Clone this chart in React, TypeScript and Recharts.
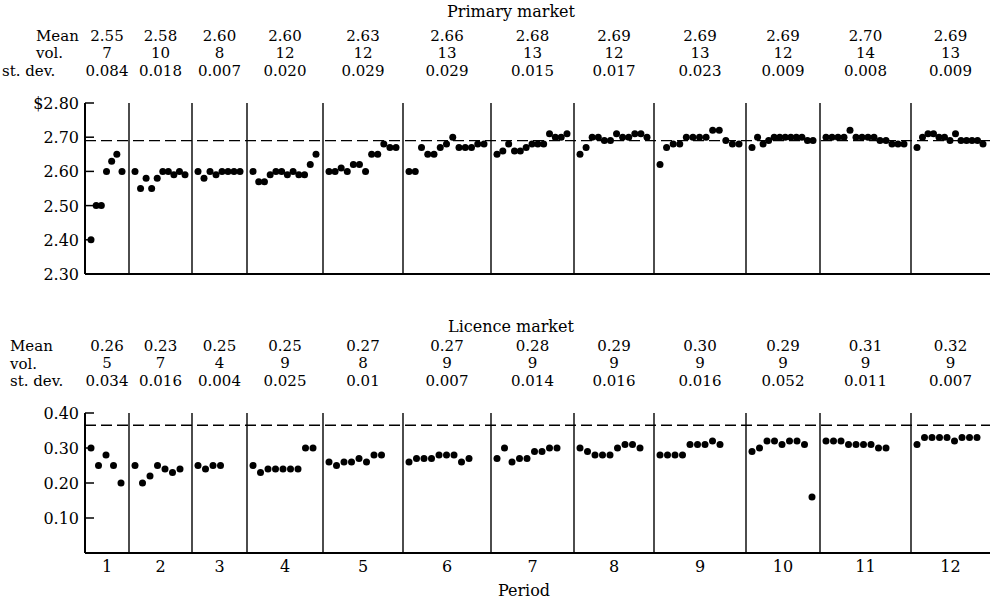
import React from "react";
import { ScatterChart, Scatter, XAxis, YAxis, ReferenceLine } from "recharts";

// Periods and their length on the time axis
const periods = [1, 2, 3, 4, 5, 6, 7, 8, 9, 10, 11, 12];
const periodLength = [44, 63, 55, 76, 80, 88, 83, 80, 92, 74, 91, 79];

// Primary market: trade prices, one list per period
const primaryPrices = [
  [2.4, 2.5, 2.5, 2.6, 2.63, 2.65, 2.6],
  [2.6, 2.55, 2.58, 2.55, 2.58, 2.6, 2.6, 2.59, 2.6, 2.59],
  [2.6, 2.58, 2.6, 2.59, 2.6, 2.6, 2.6, 2.6],
  [2.6, 2.57, 2.57, 2.59, 2.6, 2.6, 2.59, 2.6, 2.59, 2.59, 2.62, 2.65],
  [2.6, 2.6, 2.61, 2.6, 2.62, 2.62, 2.6, 2.65, 2.65, 2.68, 2.67, 2.67],
  [2.6, 2.6, 2.67, 2.65, 2.65, 2.67, 2.68, 2.7, 2.67, 2.67, 2.67, 2.68, 2.68],
  [2.65, 2.66, 2.68, 2.66, 2.66, 2.67, 2.68, 2.68, 2.68, 2.71, 2.7, 2.7, 2.71],
  [2.65, 2.67, 2.7, 2.7, 2.69, 2.69, 2.71, 2.7, 2.7, 2.71, 2.71, 2.7],
  [2.62, 2.67, 2.68, 2.68, 2.7, 2.7, 2.7, 2.7, 2.72, 2.72, 2.69, 2.68, 2.68],
  [2.67, 2.7, 2.68, 2.69, 2.7, 2.7, 2.7, 2.7, 2.7, 2.7, 2.69, 2.69],
  [2.7, 2.7, 2.7, 2.7, 2.72, 2.7, 2.7, 2.7, 2.7, 2.69, 2.69, 2.68, 2.68, 2.68],
  [2.67, 2.7, 2.71, 2.71, 2.7, 2.7, 2.69, 2.71, 2.69, 2.69, 2.69, 2.69, 2.68],
];

// Licence market: trade prices, one list per period
const licencePrices = [
  [0.3, 0.25, 0.28, 0.25, 0.2],
  [0.25, 0.2, 0.22, 0.25, 0.24, 0.23, 0.24],
  [0.25, 0.24, 0.25, 0.25],
  [0.25, 0.23, 0.24, 0.24, 0.24, 0.24, 0.24, 0.3, 0.3],
  [0.26, 0.25, 0.26, 0.26, 0.27, 0.26, 0.28, 0.28],
  [0.26, 0.27, 0.27, 0.27, 0.28, 0.28, 0.28, 0.26, 0.27],
  [0.27, 0.3, 0.26, 0.27, 0.27, 0.29, 0.29, 0.3, 0.3],
  [0.3, 0.29, 0.28, 0.28, 0.28, 0.3, 0.31, 0.31, 0.3],
  [0.28, 0.28, 0.28, 0.28, 0.31, 0.31, 0.31, 0.32, 0.31],
  [0.29, 0.3, 0.32, 0.32, 0.31, 0.32, 0.32, 0.31, 0.16],
  [0.32, 0.32, 0.32, 0.31, 0.31, 0.31, 0.31, 0.3, 0.3],
  [0.31, 0.33, 0.33, 0.33, 0.33, 0.32, 0.33, 0.33, 0.33],
];

// Summary rows printed above each panel
const primaryMean = ["2.55", "2.58", "2.60", "2.60", "2.63", "2.66", "2.68", "2.69", "2.69", "2.69", "2.70", "2.69"];
const primaryVol = ["7", "10", "8", "12", "12", "13", "13", "12", "13", "12", "14", "13"];
const primarySd = ["0.084", "0.018", "0.007", "0.020", "0.029", "0.029", "0.015", "0.017", "0.023", "0.009", "0.008", "0.009"];
const licenceMean = ["0.26", "0.23", "0.25", "0.25", "0.27", "0.27", "0.28", "0.29", "0.30", "0.29", "0.31", "0.32"];
const licenceVol = ["5", "7", "4", "9", "8", "9", "9", "9", "9", "9", "9", "9"];
const licenceSd = ["0.034", "0.016", "0.004", "0.025", "0.01", "0.007", "0.014", "0.016", "0.016", "0.052", "0.011", "0.007"];

// Equilibrium (dashed) levels and axis ticks
const primaryEquilibrium = 2.69;
const licenceEquilibrium = 0.365;
const primaryTicks = [2.3, 2.4, 2.5, 2.6, 2.7, 2.8];
const licenceTicks = [0.1, 0.2, 0.3, 0.4];

const FONT = "DejaVu Serif";

const periodStart = periodLength.map((_, i) =>
  periodLength.slice(0, i).reduce((a, b) => a + b, 0)
);
const totalLength = periodLength.reduce((a, b) => a + b, 0);
const periodCenter = periodStart.map((s, i) => s + periodLength[i] / 2);

// primary trades are spread over the whole period, licence trades follow each other at a fixed step
const spreadPoints = (prices: number[][]) =>
  prices.flatMap((list, p) =>
    list.map((price, i) => ({
      x: periodStart[p] + 6 + (i * (periodLength[p] - 13)) / (list.length - 1),
      y: price,
    }))
  );
const stepPoints = (prices: number[][], step: number) =>
  prices.flatMap((list, p) =>
    list.map((price, i) => ({ x: periodStart[p] + 6 + i * step, y: price }))
  );

const primaryPoints = spreadPoints(primaryPrices);
const licencePoints = stepPoints(licencePrices, 7.5);

const Dot = (props: any) => <circle cx={props.cx} cy={props.cy} r={3.5} fill="#000" />;

const PriceTick = ({ x, y, payload, dollar }: any) => (
  <g>
    <line x1={x} x2={x + 9} y1={y} y2={y} stroke="#000" strokeWidth={1.5} />
    <text x={x - 6} y={y + 6} textAnchor="end" fontFamily={FONT} fontSize={16} fill="#000">
      {(dollar && payload.value === dollar ? "$" : "") + payload.value.toFixed(2)}
    </text>
  </g>
);

const StatsTick = ({ x, y, index, rows }: any) => (
  <text textAnchor="middle" fontFamily={FONT} fontSize={15} fill="#000">
    <tspan x={x} y={y - 62.5}>{rows[0][index]}</tspan>
    <tspan x={x} y={y - 45}>{rows[1][index]}</tspan>
    <tspan x={x} y={y - 27.5}>{rows[2][index]}</tspan>
  </text>
);

const PeriodTick = ({ x, y, index }: any) => (
  <text x={x} y={y + 19} textAnchor="middle" fontFamily={FONT} fontSize={16} fill="#000">
    {periods[index]}
  </text>
);

function Panel({ points, rows, domain, ticks, equilibrium, dollar, height, bottom, showPeriods }: any) {
  return (
    <ScatterChart width={994} height={height} margin={{ top: 3, right: 4, bottom, left: 5 }}>
      <XAxis
        xAxisId="stats"
        orientation="top"
        type="number"
        dataKey="x"
        domain={[0, totalLength]}
        allowDataOverflow
        ticks={periodCenter}
        interval={0}
        height={100}
        axisLine={false}
        tickLine={false}
        tickSize={0}
        tickMargin={0}
        tick={<StatsTick rows={rows} />}
      />
      <XAxis
        type="number"
        dataKey="x"
        domain={[0, totalLength]}
        allowDataOverflow
        ticks={periodCenter}
        interval={0}
        height={showPeriods ? 30 : 16}
        axisLine={{ stroke: "#000", strokeWidth: 2 }}
        tickLine={false}
        tickSize={0}
        tickMargin={0}
        tick={showPeriods ? <PeriodTick /> : false}
      />
      <YAxis
        type="number"
        dataKey="y"
        domain={domain}
        allowDataOverflow
        ticks={ticks}
        interval={0}
        width={80}
        axisLine={{ stroke: "#000", strokeWidth: 2 }}
        tickLine={false}
        tickSize={0}
        tickMargin={0}
        tick={<PriceTick dollar={dollar} />}
      />
      {periodStart.slice(1).map((s) => (
        <ReferenceLine key={s} x={s} stroke="#000" strokeWidth={1.4} />
      ))}
      <ReferenceLine y={equilibrium} stroke="#000" strokeWidth={1.3} strokeDasharray="11 5" />
      <Scatter data={points} shape={<Dot />} isAnimationActive={false} />
    </ScatterChart>
  );
}

const labelStyle = { fontFamily: FONT, fontSize: 15, fill: "#000" };

export default function App() {
  return (
    <div style={{ position: "absolute", left: 0, top: 0, width: 994, height: 604, background: "#fff" }}>
      <div style={{ position: "absolute", left: 0, top: 0 }}>
        <Panel
          points={primaryPoints}
          rows={[primaryMean, primaryVol, primarySd]}
          domain={[2.3, 2.8]}
          ticks={primaryTicks}
          equilibrium={primaryEquilibrium}
          dollar={2.8}
          height={290}
          bottom={0}
          showPeriods={false}
        />
      </div>
      <div style={{ position: "absolute", left: 0, top: 310 }}>
        <Panel
          points={licencePoints}
          rows={[licenceMean, licenceVol, licenceSd]}
          domain={[0, 0.4]}
          ticks={licenceTicks}
          equilibrium={licenceEquilibrium}
          height={294}
          bottom={21}
          showPeriods
        />
      </div>
      <svg width={994} height={604} style={{ position: "absolute", left: 0, top: 0, pointerEvents: "none" }}>
        <text x={511} y={17} textAnchor="middle" {...labelStyle} fontSize={16}>Primary market</text>
        <text x={36} y={40.5} {...labelStyle}>Mean</text>
        <text x={36} y={58} {...labelStyle}>vol.</text>
        <text x={2} y={75.5} {...labelStyle}>st. dev.</text>
        <text x={511} y={332} textAnchor="middle" {...labelStyle} fontSize={16}>Licence market</text>
        <text x={10} y={351} {...labelStyle}>Mean</text>
        <text x={10} y={368.5} {...labelStyle}>vol.</text>
        <text x={10} y={386} {...labelStyle}>st. dev.</text>
        <text x={524} y={596} textAnchor="middle" {...labelStyle} fontSize={16}>Period</text>
      </svg>
    </div>
  );
}
